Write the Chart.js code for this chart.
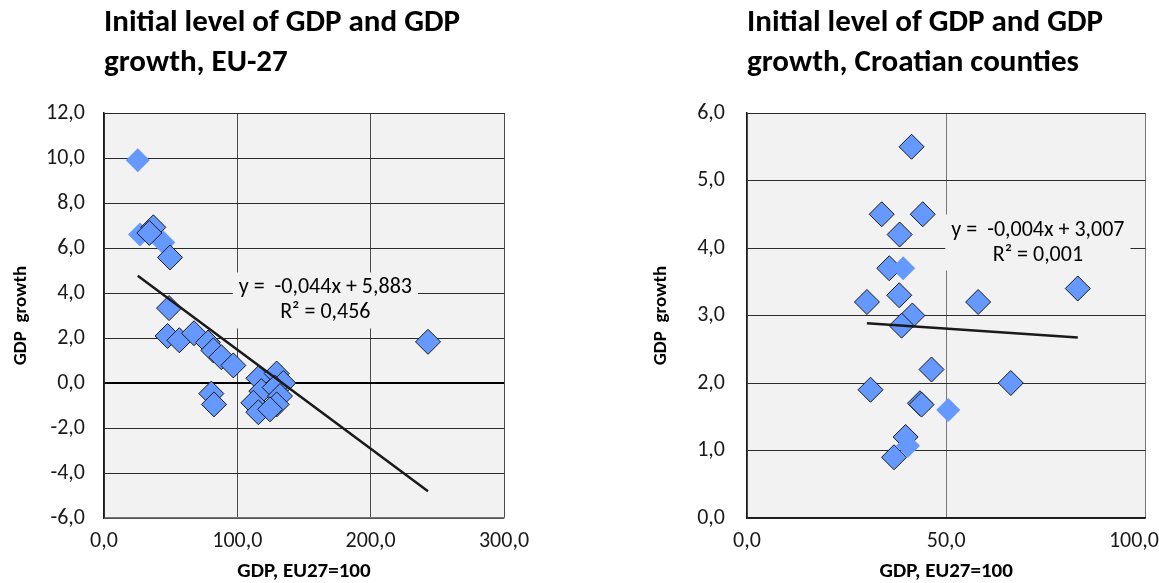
<!DOCTYPE html>
<html>
<head>
<meta charset="utf-8">
<script src="https://cdn.jsdelivr.net/npm/chart.js@4.4.1/dist/chart.umd.min.js"></script>
<style>
  body { margin: 0; background: #fff; }
  #wrap { position: relative; width: 1159px; height: 583px; }
  canvas { position: absolute; top: 0; }
  #euChart { left: 0; }
  #hrChart { left: 580px; }
</style>
</head>
<body>
<div id="wrap">
  <canvas id="euChart" width="580" height="583"></canvas>
  <canvas id="hrChart" width="579" height="583"></canvas>
</div>
<script>
const FONT = 'Carlito, Calibri, Lato, sans-serif';

// EU-27 member states: GDP per capita (EU27=100) vs GDP growth
const euGdp    = [37, 34, 49.5, 48.8, 47.7, 56.5, 67.5, 78, 82, 88, 97, 80.5, 82.5, 243,
                  115.8, 129.5, 134.5, 118, 128, 132, 112, 129.5, 115.8, 124.5];
const euGrowth = [6.92, 6.67, 5.58, 3.33, 2.09, 1.9, 2.21, 1.8, 1.45, 1.15, 0.78, -0.47, -0.95, 1.83,
                  0.21, 0.42, 0.0, -0.36, -0.2, -0.58, -0.88, -0.95, -1.3, -1.17];
// points shown without an outline
const euGdpPlain    = [25.3, 27, 44.5];
const euGrowthPlain = [9.9, 6.6, 6.25];
const euSlope = -0.044, euIntercept = 5.883, euR2 = 0.456;

// Croatian counties
const hrGdp    = [41.3, 33.8, 44.1, 38.3, 35.7, 30.1, 38.2, 41.5, 38.8, 58, 83, 46.3, 31, 66.2,
                  43.4, 43.8, 39.8, 36.9];
const hrGrowth = [5.5, 4.5, 4.5, 4.2, 3.7, 3.2, 3.3, 3.0, 2.85, 3.2, 3.4, 2.2, 1.9, 2.0,
                  1.7, 1.68, 1.2, 0.9];
const hrGdpPlain    = [39.2, 50.5, 40.4];
const hrGrowthPlain = [3.7, 1.6, 1.07];
const hrSlope = -0.004, hrIntercept = 3.007, hrR2 = 0.001;

const xTitle = 'GDP, EU27=100';
const yTitle = 'GDP  growth';

const fmt = (v, d) => v.toFixed(d).replace('.', ',');
const toPoints = (xs, ys) => xs.map((x, i) => ({x: x, y: ys[i]}));

// light grey plot area behind the grid
const plotBackground = {
  id: 'plotBackground',
  beforeDraw(chart) {
    const {ctx, chartArea: a} = chart;
    ctx.save();
    ctx.fillStyle = '#f2f2f2';
    ctx.fillRect(a.left, a.top, a.width, a.height);
    ctx.restore();
  }
};

// pull x tick labels back inside the canvas instead of clipping them
const keepTicksInside = {
  id: 'keepTicksInside',
  beforeDraw(chart) {
    const {ctx} = chart;
    const items = chart.scales.x.getLabelItems();
    ctx.save();
    items.forEach(it => {
      ctx.font = it.font.string;
      const half = ctx.measureText(it.label).width / 2;
      const t = it.options.translation;
      t[0] = Math.min(t[0], chart.width - half);
    });
    ctx.restore();
  }
};

// regression equation, boxed so it breaks the grid lines
const trendLabel = {
  id: 'trendLabel',
  beforeDatasetsDraw(chart, args, opts) {
    if (!opts.lines) return;
    const {ctx, scales} = chart;
    const cx = scales.x.getPixelForValue(opts.x);
    const cy = scales.y.getPixelForValue(opts.y);
    ctx.save();
    ctx.font = '22px ' + FONT;
    const w = Math.max(...opts.lines.map(t => ctx.measureText(t).width)) + 2 * opts.padX;
    const h = opts.lines.length * opts.lineHeight + 2 * opts.padY;
    ctx.fillStyle = '#f2f2f2';
    ctx.fillRect(cx - w / 2, cy - h / 2, w, h);
    ctx.fillStyle = '#000';
    ctx.textAlign = 'center';
    ctx.textBaseline = 'middle';
    opts.lines.forEach((t, i) => {
      ctx.fillText(t, cx, cy - h / 2 + opts.padY + opts.lineHeight * (i + 0.5));
    });
    ctx.restore();
  }
};

function makeChart(id, cfg) {
  const xs = cfg.gdp.concat(cfg.gdpPlain);
  const xMin = Math.min(...xs), xMax = Math.max(...xs);
  const line = [
    {x: xMin, y: cfg.slope * xMin + cfg.intercept},
    {x: xMax, y: cfg.slope * xMax + cfg.intercept}
  ];
  const marker = {
    type: 'scatter',
    pointStyle: 'rectRot',
    pointRadius: 12.5,
    backgroundColor: '#6699ff',
    borderColor: '#1a1a1a',
    pointBorderWidth: 1
  };

  return new Chart(document.getElementById(id), {
    type: 'scatter',
    data: {
      datasets: [
        {
          type: 'line',
          data: line,
          borderColor: '#1a1a1a',
          borderWidth: 2.5,
          pointRadius: 0,
          order: 0
        },
        Object.assign({}, marker, {data: toPoints(cfg.gdp, cfg.growth), order: 2}),
        Object.assign({}, marker, {
          data: toPoints(cfg.gdpPlain, cfg.growthPlain),
          pointRadius: 12,
          pointBorderWidth: 0,
          borderWidth: 0,
          order: cfg.plainOrder
        })
      ]
    },
    options: {
      responsive: false,
      animation: false,
      layout: {padding: {left: 0, right: cfg.padRight, top: 0, bottom: 0}},
      plugins: {
        legend: {display: false},
        tooltip: {enabled: false},
        title: {
          display: true,
          text: cfg.title,
          align: 'start',
          fullSize: false,
          color: '#000',
          font: {family: FONT, size: 31, weight: 'bold', lineHeight: 40 / 31},
          padding: {top: 3, bottom: 30}
        },
        trendLabel: {
          lines: [
            'y =  ' + fmt(cfg.slope, 3) + 'x + ' + fmt(cfg.intercept, 3),
            'R² = ' + fmt(cfg.r2, 3)
          ],
          x: cfg.labelAt[0],
          y: cfg.labelAt[1],
          padX: 6,
          padY: 3,
          lineHeight: 25
        }
      },
      scales: {
        x: {
          type: 'linear',
          min: cfg.xRange[0],
          max: cfg.xRange[1],
          afterFit: s => {
            s.height = 65;
            s.paddingLeft = 0;
            s.paddingRight = 0;
          },
          ticks: {
            stepSize: cfg.xStep,
            padding: 10,
            color: '#1a1a1a',
            font: {family: FONT, size: 22},
            callback: v => fmt(v, 1)
          },
          grid: {color: cfg.vGrid, drawTicks: false},
          border: {color: cfg.bottomBorder, width: 1.5},
          title: {
            display: true,
            text: xTitle,
            color: '#000',
            font: {family: FONT, size: 21, weight: 'bold'},
            padding: {top: 0, bottom: -1}
          }
        },
        y: {
          min: cfg.yRange[0],
          max: cfg.yRange[1],
          afterFit: s => { s.width = cfg.yWidth; },
          ticks: {
            stepSize: cfg.yStep,
            padding: cfg.yTickPad,
            color: '#1a1a1a',
            font: {family: FONT, size: 22},
            callback: v => fmt(v, 1)
          },
          grid: {
            color: c => (c.tick && c.tick.value === 0 && cfg.zeroLine) ? '#000' : '#2a2a2a',
            lineWidth: c => (c.tick && c.tick.value === 0 && cfg.zeroLine) ? 2 : 1,
            drawTicks: false
          },
          border: {color: '#1a1a1a', width: 1.5},
          title: {
            display: true,
            text: yTitle,
            color: '#000',
            font: {family: FONT, size: 19, weight: 'bold'},
            padding: {top: cfg.yTitlePad, bottom: 0}
          }
        }
      }
    },
    plugins: [plotBackground, keepTicksInside, trendLabel]
  });
}

makeChart('euChart', {
  title: ['Initial level of GDP and GDP', 'growth, EU-27'],
  gdp: euGdp, growth: euGrowth,
  gdpPlain: euGdpPlain, growthPlain: euGrowthPlain, plainOrder: 3,
  slope: euSlope, intercept: euIntercept, r2: euR2,
  labelAt: [166, 3.67],
  xRange: [0, 300], xStep: 100,
  yRange: [-6, 12], yStep: 2,
  yWidth: 104, yTickPad: 19, yTitlePad: 10,
  padRight: 76, vGrid: '#4a4a4a', bottomBorder: '#777', zeroLine: true
});

makeChart('hrChart', {
  title: ['Initial level of GDP and GDP', 'growth, Croatian counties'],
  gdp: hrGdp, growth: hrGrowth,
  gdpPlain: hrGdpPlain, growthPlain: hrGrowthPlain, plainOrder: 1,
  slope: hrSlope, intercept: hrIntercept, r2: hrR2,
  labelAt: [73, 4.08],
  xRange: [0, 100], xStep: 50,
  yRange: [0, 6], yStep: 1,
  yWidth: 167, yTickPad: 22, yTitlePad: 70,
  padRight: 13, vGrid: '#777', bottomBorder: '#1a1a1a', zeroLine: false
});
</script>
</body>
</html>
